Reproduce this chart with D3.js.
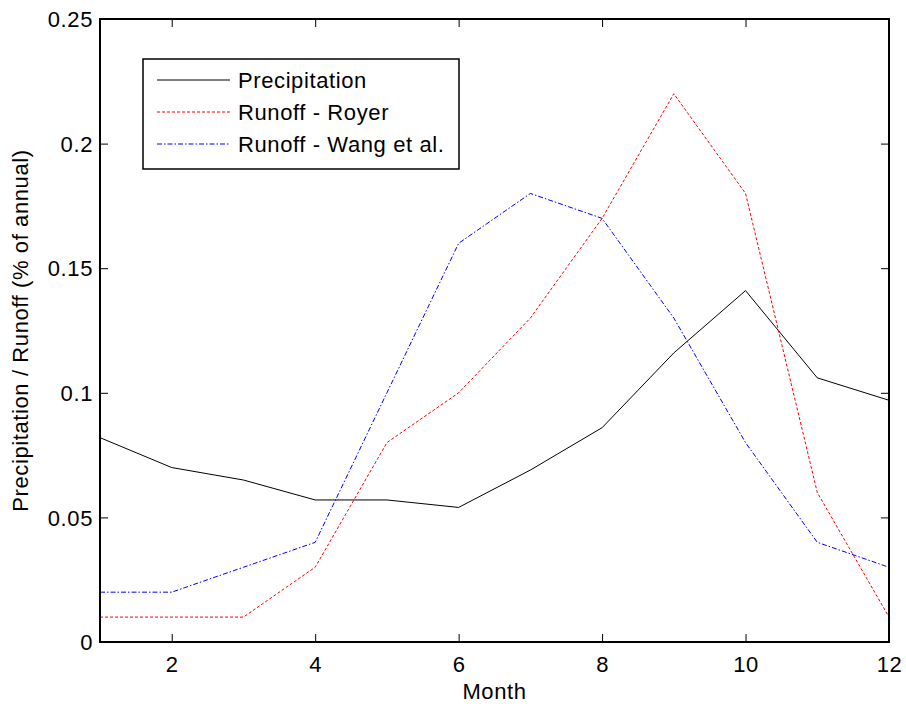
<!DOCTYPE html>
<html>
<head>
<meta charset="utf-8">
<script src="https://cdn.jsdelivr.net/npm/d3@7"></script>
<style>
  body { margin: 0; background: #fff; }
  text { font-family: "Liberation Sans", Arial, sans-serif; fill: #000; letter-spacing: 0.6px; }
</style>
</head>
<body>
<div id="chart"></div>
<script>
// Monthly share of annual total
const months = [1, 2, 3, 4, 5, 6, 7, 8, 9, 10, 11, 12];
const precipitation = [0.082, 0.070, 0.065, 0.057, 0.057, 0.054, 0.069, 0.086, 0.116, 0.141, 0.106, 0.097];
const runoffRoyer = [0.01, 0.01, 0.01, 0.03, 0.08, 0.10, 0.13, 0.17, 0.22, 0.18, 0.06, 0.01];
const runoffWang = [0.02, 0.02, 0.03, 0.04, 0.10, 0.16, 0.18, 0.17, 0.13, 0.08, 0.04, 0.03];
const xTicks = [2, 4, 6, 8, 10, 12];
const yTicks = [0, 0.05, 0.1, 0.15, 0.2, 0.25];

const series = [
  { name: "Precipitation", values: precipitation, color: "#000", dash: null },
  { name: "Runoff - Royer", values: runoffRoyer, color: "#ff0000", dash: "3,2" },
  { name: "Runoff - Wang et al.", values: runoffWang, color: "#0000ff", dash: "5,2,1.5,2" }
];

const W = 906, H = 707;
const margin = { top: 19, right: 17, bottom: 65, left: 100 };
const width = W - margin.left - margin.right;
const height = H - margin.top - margin.bottom;
const FONT = "22px";

const svg = d3.select("#chart").append("svg")
  .attr("width", W).attr("height", H)
  .append("g")
  .attr("transform", `translate(${margin.left},${margin.top})`);

const x = d3.scaleLinear().domain([1, 12]).range([0, width]);
const y = d3.scaleLinear().domain([0, 0.25]).range([height, 0]);

// Lines
const line = d3.line().x((d, i) => x(months[i])).y(d => y(d));
series.forEach(s => {
  svg.append("path")
    .datum(s.values)
    .attr("fill", "none")
    .attr("stroke", s.color)
    .attr("stroke-width", 1)
    .attr("stroke-dasharray", s.dash)
    .attr("d", line);
});

// Axes with inward ticks on all four sides
const tickLen = 8;
const xAxis = d3.axisBottom(x).tickValues(xTicks).tickSizeInner(-tickLen).tickSizeOuter(0).tickPadding(14);
const yAxis = d3.axisLeft(y).tickValues(yTicks).tickSizeInner(-tickLen).tickSizeOuter(0).tickPadding(7)
  .tickFormat(d => d === 0 ? "0" : String(+d.toFixed(2)));

const gx = svg.append("g").attr("transform", `translate(0,${height})`).call(xAxis);
const gy = svg.append("g").call(yAxis);
svg.append("g").call(d3.axisTop(x).tickValues(xTicks).tickSizeInner(-tickLen).tickSizeOuter(0).tickFormat(""));
svg.append("g").attr("transform", `translate(${width},0)`)
  .call(d3.axisRight(y).tickValues(yTicks).tickSizeInner(-tickLen).tickSizeOuter(0).tickFormat(""));

svg.selectAll(".domain").remove();
svg.selectAll(".tick line").attr("stroke", "#000").attr("stroke-width", 1);
gx.selectAll("text").style("font-size", FONT);
gy.selectAll("text").style("font-size", FONT).attr("dy", "0.35em");

// Frame
svg.append("rect")
  .attr("width", width).attr("height", height)
  .attr("fill", "none").attr("stroke", "#000").attr("stroke-width", 2);

// Axis labels
svg.append("text")
  .attr("x", width / 2).attr("y", height + 57)
  .attr("text-anchor", "middle")
  .style("font-size", FONT)
  .text("Month");

svg.append("text")
  .attr("transform", `translate(${-72},${height / 2}) rotate(-90)`)
  .attr("text-anchor", "middle")
  .style("font-size", FONT)
  .text("Precipitation / Runoff (% of annual)");

// Legend
const legend = svg.append("g").attr("transform", `translate(${143 - margin.left},${59 - margin.top})`);
legend.append("rect")
  .attr("width", 316).attr("height", 110)
  .attr("fill", "#fff").attr("stroke", "#000").attr("stroke-width", 1.5);

const rows = legend.selectAll("g.row").data(series).enter().append("g")
  .attr("transform", (d, i) => `translate(0,${21 + i * 32})`);
rows.append("line")
  .attr("x1", 14).attr("x2", 87)
  .attr("stroke", d => d.color)
  .attr("stroke-width", 1)
  .attr("stroke-dasharray", d => d.dash);
rows.append("text")
  .attr("x", 95).attr("dy", "0.35em")
  .style("font-size", FONT)
  .text(d => d.name);
</script>
</body>
</html>
